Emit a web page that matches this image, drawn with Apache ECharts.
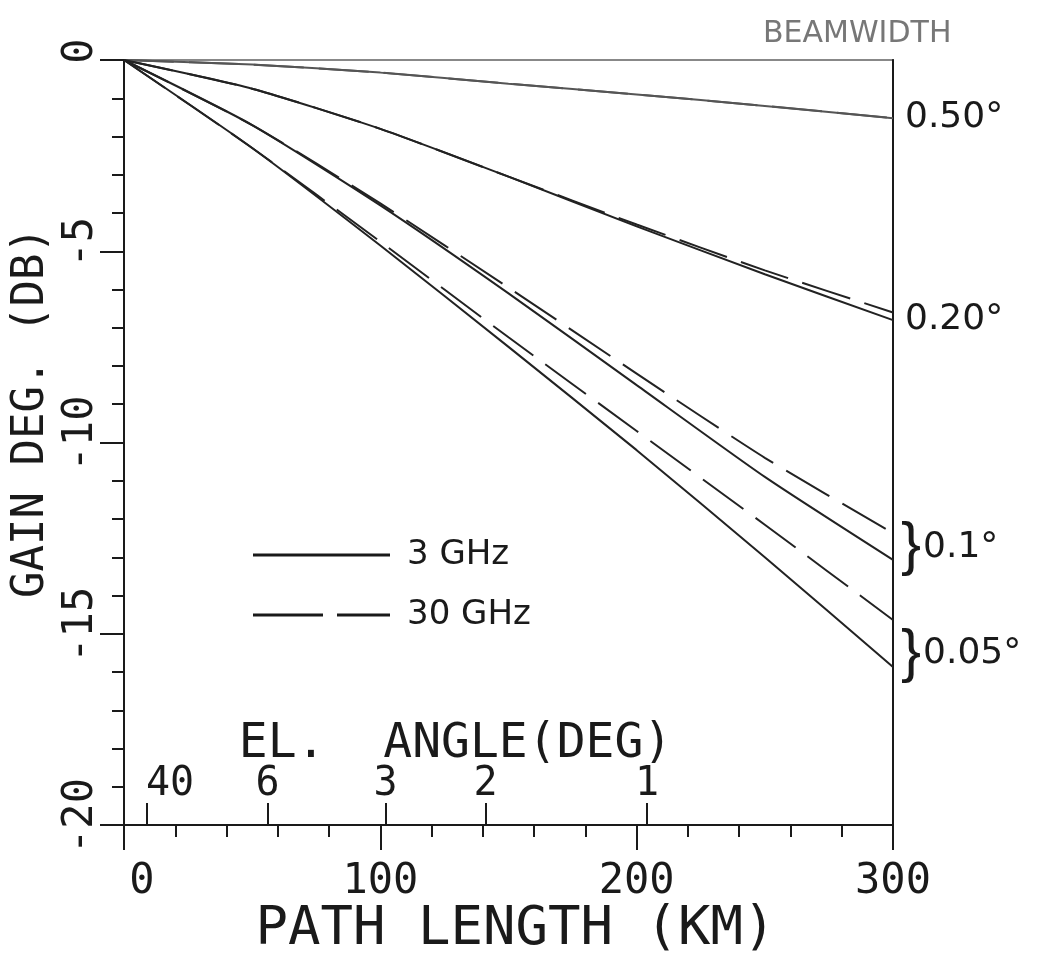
<!DOCTYPE html>
<html><head><meta charset="utf-8">
<script src="https://cdn.jsdelivr.net/npm/echarts@6/dist/echarts.min.js"></script>
<style>html,body{margin:0;padding:0;background:#fff}#c{width:1037px;height:962px}</style>
</head><body><div id="c"></div>
<script>
// Path length sample points (km)
const pathKm = [0, 50, 100, 150, 200, 250, 300];
// Gain degradation (dB) per beamwidth, 3 GHz (solid) and 30 GHz (dashed)
const bw050_3GHz  = [0, -0.12, -0.33, -0.62, -0.90, -1.20, -1.52];
const bw050_30GHz = [0, -0.12, -0.33, -0.62, -0.90, -1.20, -1.52];
const bw020_3GHz  = [0, -0.75, -1.80, -3.05, -4.35, -5.60, -6.80];
const bw020_30GHz = [0, -0.75, -1.80, -3.05, -4.30, -5.50, -6.60];
const bw010_3GHz  = [0, -1.70, -3.80, -6.10, -8.50, -10.90, -13.07];
const bw010_30GHz = [0, -1.70, -3.75, -5.95, -8.20, -10.40, -12.37];
const bw005_3GHz  = [0, -2.30, -4.85, -7.50, -10.20, -13.00, -15.87];
const bw005_30GHz = [0, -2.30, -4.75, -7.25, -9.70, -12.15, -14.64];
// Elevation angle scale (secondary labels along path length axis)
const elevAngleLabels = ['40', '6', '3', '2', '1'];
const elevAngleKm = [9, 56, 102, 141, 204];
const beamLabels = ['0.50°', '0.20°', '0.1°', '0.05°'];

const mono = 'DejaVu Sans Mono';
const round = 'DejaVu Sans';
const ink = '#1a1a1a';

function pts(v) { return pathKm.map((x, i) => [x, v[i]]); }

function ser(name, vals, dashed, color, endLbl) {
  const s = {
    name: name, type: 'line', data: pts(vals), smooth: 0.2,
    symbol: 'none', showSymbol: false, silent: true,
    xAxisIndex: 0, yAxisIndex: 0,
    lineStyle: { color: color, width: 2, type: dashed ? [50, 15] : 'solid' },
    itemStyle: { color: color },
    z: dashed ? 3 : 4
  };
  if (endLbl) s.endLabel = endLbl;
  return s;
}

const lblBase = { show: true, color: ink, fontFamily: round, fontSize: 36, distance: 12 };

const option = {
  backgroundColor: '#fff',
  animation: false,
  title: {
    text: 'BEAMWIDTH', left: 758, top: 14,
    textStyle: { fontFamily: round, fontSize: 30, fontWeight: 'normal', color: '#777' }
  },
  legend: {
    orient: 'vertical', left: 248, top: 533, itemWidth: 137, itemHeight: 3, itemGap: 26,
    selectedMode: false,
    itemStyle: { color: ink, borderWidth: 0 },
    data: [
      { name: '3 GHz', icon: 'path://M0,0H137V3H0Z' },
      { name: '30 GHz', icon: 'path://M0,0H70V3H0Z M84,0H137V3H84Z' }
    ],
    textStyle: { fontFamily: round, fontSize: 34, color: ink, padding: [0, 0, 0, 12] }
  },
  grid: { left: 124, right: 144, top: 60, bottom: 137, containLabel: false, outerBoundsMode: 'none',
          show: true, borderColor: '#888', borderWidth: 2, backgroundColor: 'transparent' },
  xAxis: [
    {
      type: 'value', min: 0, max: 300, interval: 100, position: 'bottom',
      name: 'PATH LENGTH (KM)', nameLocation: 'middle', nameGap: 78, nameMoveOverlap: false,
      nameTextStyle: { fontFamily: mono, fontSize: 54, color: ink, padding: [0, 0, 0, 14] },
      axisLine: { show: true, onZero: false, lineStyle: { color: ink, width: 2 } },
      axisTick: { show: true, length: 25, lineStyle: { color: ink, width: 2 } },
      minorTick: { show: true, splitNumber: 5, length: 12, lineStyle: { color: ink, width: 2 } },
      axisLabel: {
        margin: 36, fontFamily: mono, fontSize: 42, color: ink,
        formatter: function (v) { return v === 0 ? '{z|0}' : String(v); },
        rich: { z: { fontFamily: mono, fontSize: 42, color: ink, padding: [0, 0, 0, 36] } }
      },
      splitLine: { show: false }
    },
    {
      type: 'value', min: 0, max: 300, position: 'bottom',
      name: 'EL.  ANGLE(DEG)', nameLocation: 'middle', nameGap: -104, nameMoveOverlap: false,
      nameTextStyle: { fontFamily: mono, fontSize: 48, color: ink, padding: [0, 106, 0, 0] },
      axisLine: { show: false, onZero: false },
      axisTick: { show: true, inside: true, length: 22, customValues: elevAngleKm, lineStyle: { color: ink, width: 2 } },
      axisLabel: {
        show: true, inside: true, margin: 20, customValues: elevAngleKm,
        fontFamily: mono, fontSize: 40, color: ink,
        formatter: function (v) {
          const i = elevAngleKm.indexOf(v);
          if (i < 0) return '';
          return i === 0 ? '{s|' + elevAngleLabels[i] + '}' : elevAngleLabels[i];
        },
        rich: { s: { fontFamily: mono, fontSize: 40, color: ink, padding: [0, 0, 0, 46] } }
      },
      splitLine: { show: false }
    }
  ],
  yAxis: [
    {
      type: 'value', min: -20, max: 0, interval: 5, position: 'left',
      name: 'GAIN DEG. (DB)', nameLocation: 'middle', nameGap: 70, nameRotate: 90, nameMoveOverlap: false,
      nameTextStyle: { fontFamily: mono, fontSize: 44, color: ink, padding: [0, 0, 0, 60] },
      axisLine: { show: true, onZero: false, lineStyle: { color: ink, width: 2 } },
      axisTick: { show: true, length: 24, lineStyle: { color: ink, width: 2 } },
      minorTick: { show: true, splitNumber: 5, length: 12, lineStyle: { color: ink, width: 2 } },
      axisLabel: { rotate: 90, margin: 22, fontFamily: mono, fontSize: 42, color: ink, padding: [0, 0, 0, 18] },
      splitLine: { show: false }
    },
    {
      type: 'value', min: -20, max: 0, position: 'right',
      axisLine: { show: true, onZero: false, lineStyle: { color: ink, width: 2 } },
      axisTick: { show: false }, axisLabel: { show: false }, splitLine: { show: false }
    }
  ],
  series: [
    ser('3 GHz', bw050_3GHz, false, '#555', Object.assign({}, lblBase, { formatter: beamLabels[0] })),
    ser('30 GHz', bw050_30GHz, true, '#555'),
    ser('3 GHz', bw020_3GHz, false, '#222', Object.assign({}, lblBase, { formatter: beamLabels[1] })),
    ser('30 GHz', bw020_30GHz, true, '#222'),
    ser('3 GHz', bw010_3GHz, false, '#222', Object.assign({}, lblBase, {
      formatter: '}{t|' + beamLabels[2] + '}', fontFamily: 'Liberation Sans', fontSize: 60, distance: 8, offset: [0, -12],
      rich: { t: { fontFamily: round, fontSize: 36, color: ink, verticalAlign: 'middle', padding: [0, 0, 0, 2] } }
    })),
    ser('30 GHz', bw010_30GHz, true, '#222'),
    ser('3 GHz', bw005_3GHz, false, '#222', Object.assign({}, lblBase, {
      formatter: '}{t|' + beamLabels[3] + '}', fontFamily: 'Liberation Sans', fontSize: 60, distance: 8, offset: [0, -13],
      rich: { t: { fontFamily: round, fontSize: 36, color: ink, verticalAlign: 'middle', padding: [0, 0, 0, 2] } }
    })),
    ser('30 GHz', bw005_30GHz, true, '#222')
  ]
};

const chart = echarts.init(document.getElementById('c'), null, { renderer: 'canvas' });
chart.setOption(option);
</script>
</body></html>
